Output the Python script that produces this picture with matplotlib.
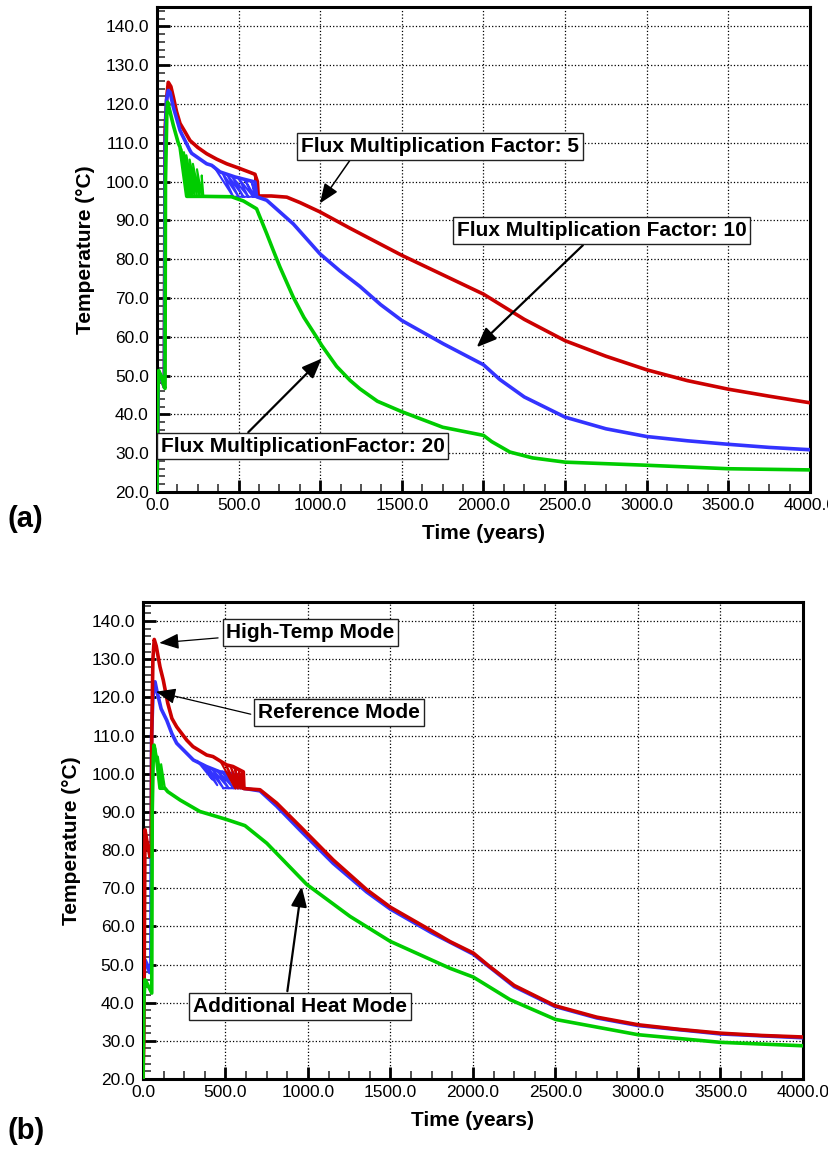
import matplotlib
matplotlib.use("Agg")
import matplotlib.pyplot as plt
from matplotlib.ticker import MultipleLocator, FormatStrFormatter

plt.rcParams['font.family'] = ['Liberation Sans', 'DejaVu Sans']

RED = '#cc0000'
BLUE = '#3333ff'
GREEN = '#00cc00'

# ---------------- panel (a): flux multiplication factors ----------------
a_red_x = [0, 8, 20, 45, 49, 60, 69, 85, 100, 120, 141, 172, 202, 250, 304, 365, 427, 500, 600,
           615, 620, 700, 795, 876, 998, 1182, 1250, 1500, 1750, 2000, 2250, 2500, 2750, 3000,
           3250, 3500, 3750, 4000]
a_red_t = [20, 51, 50, 47, 113, 122, 125.6, 124.5, 121.8, 118, 115, 112.8, 110.6, 108.8, 107.2,
           105.8, 104.6, 103.5, 101.9, 100, 96.3, 96.3, 96.0, 94.6, 92.2, 88.0, 86.5, 81.0, 76.0,
           71.0, 64.5, 59, 55, 51.5, 48.7, 46.5, 44.7, 43]
a_red_band_x = [600, 606, 603, 610, 606, 614, 610, 620]
a_red_band_t = [101.9, 96.3, 101.6, 96.3, 101.2, 96.3, 100.8, 96.3]

a_blue_x = [0, 8, 20, 45, 50, 58, 69, 80, 100, 141, 151, 202, 212, 304, 335, 386, 478, 600, 610,
            672, 835, 998, 1120, 1243, 1370, 1500, 1754, 2000, 2100, 2250, 2500, 2750, 3000,
            3250, 3500, 3750, 4000]
a_blue_t = [20, 51, 50, 47, 110, 121, 123.5, 123, 119.2, 113.2, 112.3, 108, 107.3, 104.6, 104.2,
            102.5, 101.2, 99.9, 96.1, 95.2, 89.1, 81.4, 77, 73.0, 68.3, 64.2, 58.2, 52.8, 49,
            44.5, 39.3, 36.3, 34.3, 33.2, 32.3, 31.5, 30.9]
a_blue_band_x = [350, 467, 400, 500, 430, 530, 460, 560, 500, 590, 540, 600, 580, 610, 467]
a_blue_band_t = [103.8, 96.1, 102.3, 96.1, 101.8, 96.1, 101.3, 96.1, 100.8, 96.1, 100.3, 96.1,
                 100.0, 96.1, 96.1]

a_green_x = [0, 5, 10, 25, 45, 49, 52, 60, 65, 80, 100, 130, 141, 160, 182, 284, 457, 530, 610,
             672, 712, 753, 835, 900, 978, 1009, 1100, 1182, 1243, 1350, 1500, 1750, 2000, 2050,
             2162, 2300, 2500, 3000, 3500, 4000]
a_green_t = [20, 45, 51.3, 50, 47, 46.7, 100, 117, 120.5, 118, 114.5, 110, 108.9, 103, 96.2,
             96.2, 96.1, 95, 93, 86.6, 82.3, 78, 70.2, 65, 59.9, 57.8, 52.4, 48.8, 46.6, 43.4, 40.7,
             36.7, 34.6, 33, 30.3, 28.8, 27.7, 26.9, 26, 25.7]
a_green_band_x = [141, 185, 150, 200, 165, 215, 180, 230, 200, 245, 220, 260, 245, 275, 274, 284]
a_green_band_t = [108.9, 96.2, 108.4, 96.2, 107.6, 96.2, 106.8, 96.2, 105.7, 96.2, 104.6, 96.2,
                  103.2, 96.2, 101.6, 96.2]

# ---------------- panel (b): operating modes ----------------
b_red_x = [0, 5, 12, 25, 42, 50, 53, 60, 68, 80, 103, 123, 150, 175, 204, 265, 303, 386, 424, 507,
           545, 608, 612, 709, 810, 952, 1153, 1356, 1500, 1750, 1861, 2002, 2100, 2250, 2497,
           2750, 3002, 3250, 3500, 3750, 4000]
b_red_t = [20, 30, 85.3, 82, 78.3, 80, 110, 130, 135.2, 133.5, 128, 124.5, 118.5, 114.5, 112.3,
           108.8, 107.1, 104.9, 104.5, 102.3, 101.9, 100.5, 96.1, 95.8, 92.3, 86.2, 77.4, 69.6,
           65, 58.8, 56, 53, 49.5, 44.5, 39.2, 36.2, 34.2, 33, 32, 31.4, 31]
b_red_band_x = [470, 560, 500, 575, 530, 590, 555, 600, 580, 605, 600, 612]
b_red_band_t = [103.2, 96.1, 102.6, 96.1, 102.0, 96.1, 101.5, 96.1, 101.0, 96.1, 100.6, 96.1]

b_blue_x = [0, 5, 12, 25, 40, 48, 52, 60, 73, 85, 110, 144, 175, 204, 250, 305, 384, 465, 600,
            606, 709, 810, 952, 1153, 1356, 1500, 1750, 2002, 2250, 2497, 2750, 3002, 3500, 4000]
b_blue_t = [20, 45, 51.2, 50, 47.9, 50, 110, 120, 124.1, 121.5, 117, 114, 110.5, 108, 106, 103.6,
            101.9, 100.5, 99.5, 96.2, 95.5, 91.5, 85.2, 76.5, 69, 64.5, 58.3, 52.7, 44.2, 39, 36,
            34, 31.8, 30.8]
b_blue_band_x = [330, 420, 360, 450, 390, 487, 420, 520, 450, 550, 480, 580, 520, 606, 487]
b_blue_band_t = [103.3, 98.5, 102.5, 97, 101.8, 96.2, 101.2, 96.2, 100.9, 96.2, 100.6, 96.2,
                 100.3, 96.2, 96.2]

b_green_x = [0, 5, 12, 25, 53, 56, 62, 67, 85, 103, 133, 150, 225, 345, 507, 618, 750, 992, 1255,
             1497, 1861, 2002, 2224, 2500, 3000, 3500, 4000]
b_green_t = [20, 40, 46, 45, 42.5, 90, 104, 107.5, 103, 96.2, 96.2, 95.3, 93.1, 90.1, 88, 86.4,
             81.8, 71, 62.6, 56.1, 49, 46.7, 40.8, 35.6, 31.6, 29.6, 28.7]
b_green_band_x = [75, 103, 90, 118, 110, 133]
b_green_band_t = [106.5, 96.2, 104.5, 96.2, 102.5, 96.2]

# annotations: (text, text centre x, text centre y, arrow tail, arrow tip, line width)
a_notes = [
    ("Flux Multiplication Factor: 5", 1734, 109.1, (1182, 105.5), (998, 94.4), 1.1),
    ("Flux Multiplication Factor: 10", 2723, 87.4, (2609, 83.6), (1958, 57.3), 1.6),
    ("Flux MultiplicationFactor: 20", 891, 31.8, (559, 35.4), (1009, 54.4), 1.6),
]
b_notes = [
    ("High-Temp Mode", 1015, 137.0, (455, 135.6), (99, 134.3), 0.9),
    ("Reference Mode", 1188, 116.0, (653, 115.6), (79, 121.5), 0.9),
    ("Additional Heat Mode", 952, 39.0, (875, 43.0), (962, 70.4), 1.6),
]


def style_axes(ax):
    ax.set_xlim(0, 4000)
    ax.set_ylim(20, 145)
    ax.xaxis.set_major_locator(MultipleLocator(500))
    ax.xaxis.set_minor_locator(MultipleLocator(125))
    ax.yaxis.set_major_locator(MultipleLocator(10))
    ax.yaxis.set_minor_locator(MultipleLocator(2))
    ax.xaxis.set_major_formatter(FormatStrFormatter('%.1f'))
    ax.yaxis.set_major_formatter(FormatStrFormatter('%.1f'))
    ax.tick_params(which='major', direction='in', length=9, width=2.0, labelsize=12.5,
                   top=False, right=False, color='k')
    ax.tick_params(axis='y', which='major', pad=6)
    ax.tick_params(axis='x', which='major', pad=4)
    ax.tick_params(which='minor', direction='in', length=5.5, width=1.3, color='#444444',
                   top=False, right=False)
    for s in ax.spines.values():
        s.set_linewidth(2.2)
    ax.grid(True, which='major', color='k', linestyle=':', linewidth=0.9)
    ax.set_axisbelow(True)
    ax.set_xlabel("Time (years)", fontsize=15, fontweight='bold', labelpad=8)
    ax.set_ylabel("Temperature (\u00b0C)", fontsize=15, fontweight='bold', labelpad=7)


def add_notes(ax, notes):
    for txt, tx, ty, tail, tip, lw in notes:
        ax.annotate("", xy=tip, xytext=tail,
                    arrowprops=dict(arrowstyle='-|>,head_length=0.8,head_width=0.32',
                                    mutation_scale=15, lw=lw, color='k', shrinkA=0, shrinkB=0),
                    zorder=6)
        ax.text(tx, ty, txt, ha='center', va='center', fontsize=15, fontweight='bold',
                zorder=7,
                bbox=dict(boxstyle='square,pad=0.18', fc='white', ec='#222222', lw=1.0))


fig = plt.figure(figsize=(8.29, 11.52), dpi=100)

ax1 = fig.add_axes([0.1894, 0.5729, 0.7876, 0.4210])
style_axes(ax1)
ax1.plot(a_red_x, a_red_t, color=RED, lw=2.6, zorder=3)
ax1.plot(a_red_band_x, a_red_band_t, color=RED, lw=1.6, zorder=3)
ax1.plot(a_blue_x, a_blue_t, color=BLUE, lw=2.6, zorder=3)
ax1.plot(a_blue_band_x, a_blue_band_t, color=BLUE, lw=1.5, zorder=3)
ax1.plot(a_green_x, a_green_t, color=GREEN, lw=2.6, zorder=4)
ax1.plot(a_green_band_x, a_green_band_t, color=GREEN, lw=1.5, zorder=4)
add_notes(ax1, a_notes)

ax2 = fig.add_axes([0.1725, 0.0634, 0.7961, 0.4140])
style_axes(ax2)
ax2.plot(b_blue_x, b_blue_t, color=BLUE, lw=2.6, zorder=3)
ax2.plot(b_blue_band_x, b_blue_band_t, color=BLUE, lw=1.5, zorder=3)
ax2.plot(b_red_x, b_red_t, color=RED, lw=2.6, zorder=3.5)
ax2.plot(b_red_band_x, b_red_band_t, color=RED, lw=1.5, zorder=3.5)
ax2.plot(b_green_x, b_green_t, color=GREEN, lw=2.6, zorder=4)
ax2.plot(b_green_band_x, b_green_band_t, color=GREEN, lw=1.5, zorder=4)
add_notes(ax2, b_notes)

fig.text(8 / 829, 1 - 519 / 1152, "(a)", fontsize=21, fontweight='bold', va='center')
fig.text(8 / 829, 1 - 1131 / 1152, "(b)", fontsize=21, fontweight='bold', va='center')

fig.savefig("out.png", dpi=100)
